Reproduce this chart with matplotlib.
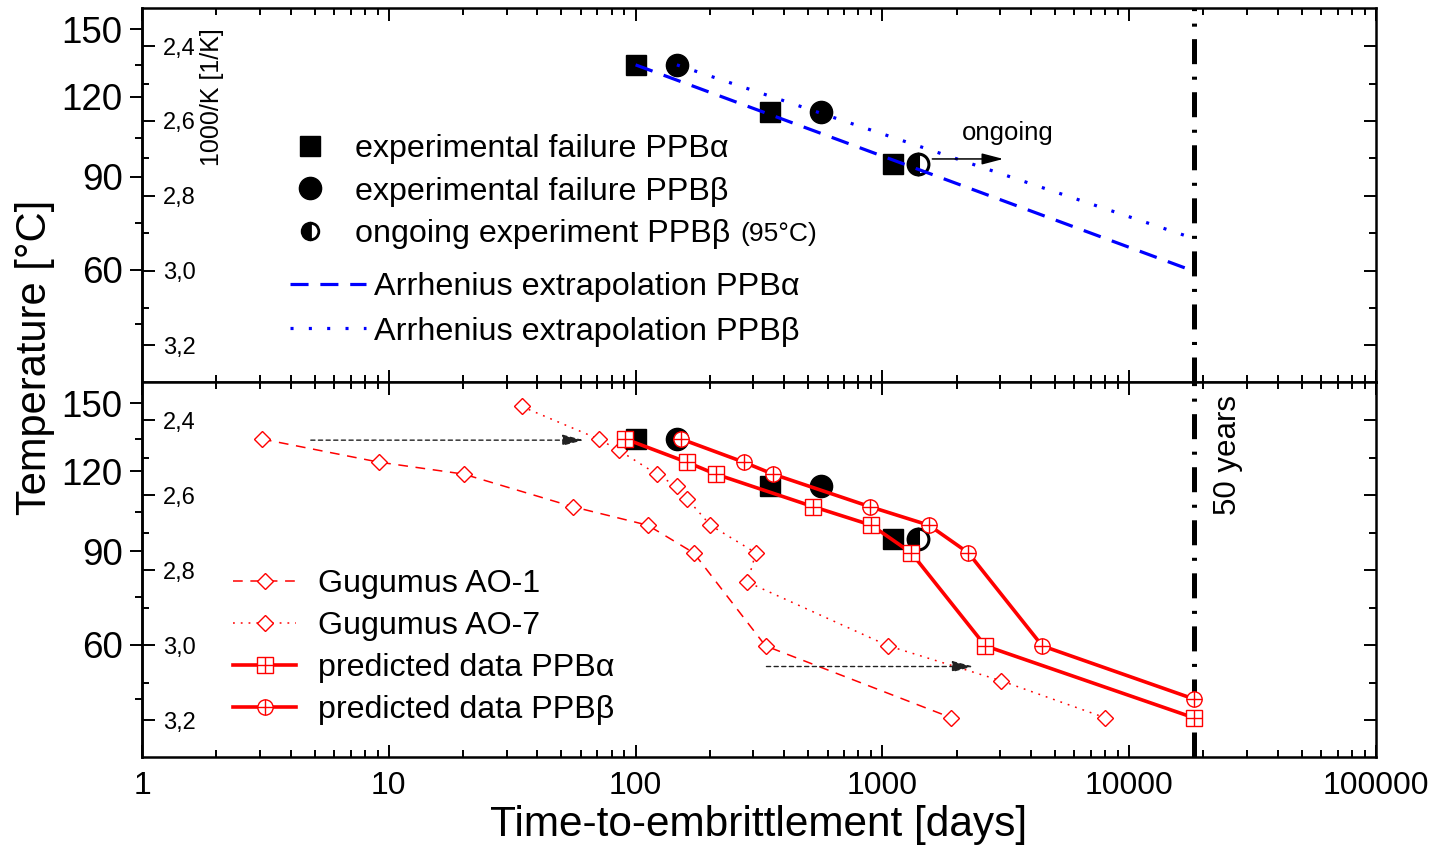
import numpy as np
import matplotlib
matplotlib.use('Agg')
import matplotlib.pyplot as plt
from matplotlib.lines import Line2D
from matplotlib.legend_handler import HandlerTuple

plt.rcParams['font.family'] = ['Liberation Sans', 'DejaVu Sans']
plt.rcParams['lines.scale_dashes'] = False

# ---------------- data ----------------
exp_alpha_days = [100, 352, 1108]
exp_alpha_T = [135, 115, 95]
exp_beta_days = [147, 566]
exp_beta_T = [135, 115]
ongoing_beta_days = [1400]
ongoing_beta_T = [95]

arr_alpha_days = [100, 18262]
arr_alpha_T = [135, 60]
arr_beta_days = [147, 18262]
arr_beta_T = [135, 70]

pred_alpha_days = [91, 161, 211, 525, 903, 1310, 2612, 18262]
pred_alpha_T = [135, 125, 120, 107, 100, 90, 60, 40]
pred_beta_days = [153, 274, 360, 891, 1544, 2230, 4444, 18262]
pred_beta_T = [135, 125, 120, 107, 100, 90, 60, 45]

ao1_days = [3.06, 9.1, 20.1, 55.6, 112, 172, 336, 1902]
ao1_T = [135, 125, 120, 107, 100, 90, 60, 40]
ao7_days = [34.5, 70.8, 85.8, 121.7, 146.6, 162, 201, 307, 284, 1057, 3022, 7998]
ao7_T = [150, 135, 130, 120, 115, 110, 100, 90, 80, 60, 50, 40]

fifty_years_days = 18262

arrow1_days = [4.83, 61.6]
arrow1_T = 134.5
arrow2_days = [339, 2336]
arrow2_T = 54
ongoing_arrow_days = [1593, 3090]
ongoing_arrow_T = 97

x_ticks = [1, 10, 100, 1000, 10000, 100000]
x_ticklabels = ['1', '10', '100', '1000', '10000', '100000']
temp_major_labels = ['150', '120', '90', '60']
temp_major_pos = [2.3545, 2.5355, 2.7495, 2.998]   # 1000/K positions of the °C ticks
temp_minor = [135, 105, 75, 45]
invk_major = [2.4, 2.6, 2.8, 3.0, 3.2]
invk_labels = ['2,4', '2,6', '2,8', '3,0', '3,2']
invk_minor = [2.5, 2.7, 2.9, 3.1]


def inv(T):
    return 1000.0 / (np.asarray(T, dtype=float) + 273.15)


W_PX, H_PX = 1438, 847
fig = plt.figure(figsize=(W_PX / 100, H_PX / 100), dpi=100)
L = 142 / W_PX
R = 1376 / W_PX
ax1 = fig.add_axes([L, 1 - 382 / H_PX, R - L, (382 - 8) / H_PX])
ax2 = fig.add_axes([L, 1 - 757 / H_PX, R - L, (757 - 382) / H_PX], sharex=ax1)

RED = '#FF0000'
BLUE = '#0000FF'

for ax in (ax1, ax2):
    ax.set_xscale('log')
    ax.set_xlim(1, 1e5)
    ax.set_ylim(3.298, 2.298)
    for s in ax.spines.values():
        s.set_linewidth(1.8)
    ax.tick_params(axis='x', which='both', direction='in', top=True, bottom=True, width=1.4)
    ax.tick_params(axis='x', which='major', length=9)
    ax.tick_params(axis='x', which='minor', length=5)
    ax.set_yticks(invk_major, labels=invk_labels)
    ax.set_yticks(invk_minor, minor=True)
    ax.tick_params(axis='y', which='both', direction='in', left=True, right=True,
                   width=1.4, labelsize=17, pad=-15)
    ax.tick_params(axis='y', which='major', length=9)
    ax.tick_params(axis='y', which='minor', length=5)
    for t in ax.yaxis.get_major_ticks():
        t.label1.set_horizontalalignment('left')
    sec = ax.secondary_yaxis('left')
    sec.set_yticks(temp_major_pos, labels=temp_major_labels)
    sec.set_yticks(inv(temp_minor), minor=True)
    sec.tick_params(axis='y', which='both', direction='out', width=1.4, labelsize=26.5, pad=5)
    sec.tick_params(axis='y', which='major', length=9)
    sec.tick_params(axis='y', which='minor', length=5)
    sec.spines['left'].set_linewidth(1.8)
    ax.axvline(fifty_years_days, color='black', lw=3.6, ls=(0, (18, 9, 2.2, 9)), zorder=1)

ax1.tick_params(axis='x', which='both', labelbottom=False)
ax2.set_xticks(x_ticks, labels=x_ticklabels)
ax2.tick_params(axis='x', which='major', labelsize=23, pad=10)

# ---------------- top panel ----------------
sq_kw = dict(ls='none', marker='s', ms=14, color='black', mec='black')
ci_kw = dict(ls='none', marker='o', ms=16, color='black', mec='black')
half_kw = dict(ls='none', marker='o', ms=15, color='black', mec='black', mew=2.2,
               fillstyle='left', markerfacecoloralt='white')

h_sq, = ax1.plot(exp_alpha_days, inv(exp_alpha_T), zorder=3, **sq_kw)
h_ci, = ax1.plot(exp_beta_days, inv(exp_beta_T), zorder=3, **ci_kw)
h_half, = ax1.plot(ongoing_beta_days, inv(ongoing_beta_T), zorder=3, **half_kw)
h_aa, = ax1.plot(arr_alpha_days, inv(arr_alpha_T), color=BLUE, lw=2.3, ls=(0, (13, 8.5)), zorder=4)
h_ab, = ax1.plot(arr_beta_days, inv(arr_beta_T), color=BLUE, lw=2.3, ls=(0, (2.2, 11)), zorder=4)

ax1.annotate('', xy=(ongoing_arrow_days[1], inv(ongoing_arrow_T)),
             xytext=(ongoing_arrow_days[0], inv(ongoing_arrow_T)),
             arrowprops=dict(arrowstyle='-|>,head_length=0.65,head_width=0.17',
                             mutation_scale=20, color='black', lw=1.1,
                             shrinkA=0, shrinkB=0), zorder=5)
ax1.text((962 - 142) / 1234, (382 - 133) / 374, 'ongoing', transform=ax1.transAxes,
         fontsize=18.5, ha='left', va='center')
ax1.text((212 - 142) / 1234, (382 - 97) / 374, '1000/K [1/K]', transform=ax1.transAxes,
         fontsize=18, rotation=90, ha='center', va='center')

legend_half = Line2D([], [], ls='none', marker='o', ms=12, color='black', mec='black',
                     mew=2.0, fillstyle='left', markerfacecoloralt='white')
leg1 = ax1.legend([h_sq, h_ci, legend_half],
                  ['experimental failure PPB\u03b1', 'experimental failure PPB\u03b2',
                   'ongoing experiment PPB\u03b2'],
                  loc='upper left', bbox_to_anchor=(294 / W_PX, 1 - 134 / H_PX),
                  bbox_transform=fig.transFigure, frameon=False, fontsize=23.2,
                  borderpad=0, borderaxespad=0, handlelength=1.0, handletextpad=0.9,
                  labelspacing=0.39, numpoints=1)
ax1.add_artist(leg1)
leg2 = ax1.legend([h_aa, h_ab],
                  ['Arrhenius extrapolation PPB\u03b1', 'Arrhenius extrapolation PPB\u03b2'],
                  loc='upper left', bbox_to_anchor=(290 / W_PX, 1 - 272 / H_PX),
                  bbox_transform=fig.transFigure, frameon=False, fontsize=23.3,
                  borderpad=0, borderaxespad=0, handlelength=2.35, handletextpad=0.25,
                  labelspacing=0.45)

# ---------------- bottom panel ----------------
ax2.plot(exp_alpha_days, inv(exp_alpha_T), zorder=3, **sq_kw)
ax2.plot(exp_beta_days, inv(exp_beta_T), zorder=3, **ci_kw)
ax2.plot(ongoing_beta_days, inv(ongoing_beta_T), zorder=3, **half_kw)

ao_kw = dict(color=RED, lw=1.1, marker='D', ms=8, mfc='white', mec=RED, mew=1.0)
h_ao1, = ax2.plot(ao1_days, inv(ao1_T), ls=(0, (7, 5.5)), zorder=2, **ao_kw)
h_ao7, = ax2.plot(ao7_days, inv(ao7_T), ls=(0, (1.3, 4.3)), zorder=2, **ao_kw)

pa_kw = dict(color=RED, lw=2.6, ms=11, mfc='white', mec=RED, mew=1.0)
h_pa, = ax2.plot(pred_alpha_days, inv(pred_alpha_T), marker='s', zorder=4, **pa_kw)
h_pa2, = ax2.plot(pred_alpha_days, inv(pred_alpha_T), ls='none', marker='+', ms=11,
                  mec=RED, mew=1.0, zorder=5)
h_pb, = ax2.plot(pred_beta_days, inv(pred_beta_T), marker='o', zorder=4, **pa_kw)
h_pb2, = ax2.plot(pred_beta_days, inv(pred_beta_T), ls='none', marker='+', ms=11,
                  mec=RED, mew=1.0, zorder=5)

for days, T in ((arrow1_days, arrow1_T), (arrow2_days, arrow2_T)):
    ax2.annotate('', xy=(days[1], inv(T)), xytext=(days[0], inv(T)),
                 arrowprops=dict(arrowstyle='-|>,head_length=0.65,head_width=0.17',
                                 mutation_scale=20, color='#222222', lw=1.0, ls=(0, (3, 2.5)),
                                 shrinkA=0, shrinkB=0), zorder=6)

ax2.text((1228 - 142) / 1234, (757 - 455) / 375, '50 years', transform=ax2.transAxes,
         fontsize=22.5, rotation=90, ha='center', va='center')

leg3 = ax2.legend([h_ao1, h_ao7, (h_pa, h_pa2), (h_pb, h_pb2)],
                  ['Gugumus AO-1', 'Gugumus AO-7', 'predicted data PPB\u03b1',
                   'predicted data PPB\u03b2'],
                  handler_map={tuple: HandlerTuple(ndivide=1)},
                  loc='upper left', bbox_to_anchor=(233 / W_PX, 1 - 569 / H_PX),
                  bbox_transform=fig.transFigure, frameon=False, fontsize=23.2,
                  borderpad=0, borderaxespad=0, handlelength=1.97, handletextpad=0.66,
                  labelspacing=0.376, numpoints=1)

# axis titles
fig.text(35 / W_PX, 1 - 357 / H_PX, 'Temperature [\u00b0C]', rotation=90, fontsize=30,
         ha='center', va='center')
fig.text(759 / W_PX, 1 - 825 / H_PX, 'Time-to-embrittlement [days]', fontsize=30.5,
         ha='center', va='center')

# "(95°C)" placed right after the legend entry
fig.canvas.draw()
renderer = fig.canvas.get_renderer()
bb = leg1.get_texts()[2].get_window_extent(renderer)
fig.text((bb.x1 + 10) / W_PX, (bb.y0 + bb.y1) / 2 / H_PX, '(95\u00b0C)', fontsize=19,
         ha='left', va='center')

fig.savefig('out.png', dpi=100)
